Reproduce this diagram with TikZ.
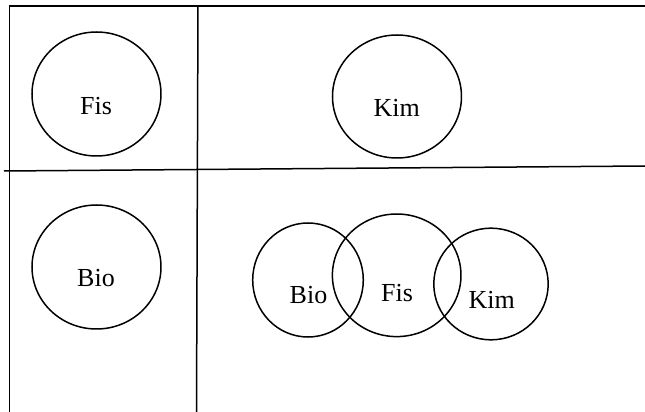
\documentclass[tikz,border=0pt]{standalone}
\usepackage{fontspec}
\setmainfont{Liberation Serif}
\usetikzlibrary{shapes.geometric}

\begin{document}
\begin{tikzpicture}[x=0.5pt,y=-0.5pt,line width=0.75pt,
  set/.style={ellipse,draw,inner sep=0pt},
  lbl/.style={draw=none,inner sep=0pt,anchor=base,font=\fontsize{13}{15}\selectfont}]

\useasboundingbox (0,0) rectangle (645,412);

\coordinate (cTL) at (9.5,6);
\coordinate (cTR) at (645,6);
\coordinate (cBL) at (9.5,412);
\coordinate (cMT) at (198,6);
\coordinate (cMB) at (196.5,412);
\coordinate (cHL) at (4,171);
\coordinate (cHR) at (645,166);

\draw (cBL) -- (cTL) -- (cTR);
\draw (cMT) -- (cMB);
\draw (cHL) -- (cHR);

\node[set,minimum width=64.5pt,minimum height=62pt]   (fisA) at (96.5,94) {};
\node[set,minimum width=64.5pt,minimum height=61.5pt] (kimA) at (397,96.5) {};
\node[set,minimum width=64.5pt,minimum height=62pt]   (bioA) at (96.5,267) {};
\node[set,minimum width=55.3pt,minimum height=57pt]   (bioB) at (308,280) {};
\node[set,minimum width=64.3pt,minimum height=61.3pt] (fisB) at (396.7,275.3) {};
\node[set,minimum width=57.2pt,minimum height=55.8pt] (kimB) at (491,284) {};

\node[lbl] (tFisA) at (96,114)     {Fis};
\node[lbl] (tKimA) at (396.7,117)  {Kim};
\node[lbl] (tBioA) at (96,286.7)   {Bio};
\node[lbl] (tBioB) at (308.5,303.3) {Bio};
\node[lbl] (tFisB) at (397,301.7)  {Fis};
\node[lbl] (tKimB) at (491.7,308.3) {Kim};

\end{tikzpicture}
\end{document}
